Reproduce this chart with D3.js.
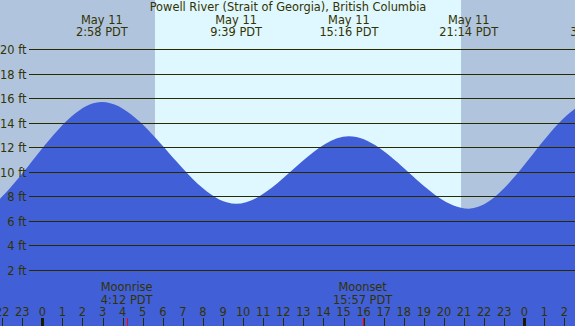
<!DOCTYPE html>
<html>
<head>
<meta charset="utf-8">
<script src="https://cdn.jsdelivr.net/npm/d3@7"></script>
<style>
  html, body { margin: 0; padding: 0; background: #fff; }
  svg { display: block; }
  text { font-family: "DejaVu Sans", sans-serif; fill: #333300; }
</style>
</head>
<body>
<div id="chart"></div>
<script>
// tide extremes, hours from May 11 00:00 PDT
var extremeHours = [-10.1, -3.9, 2.967, 9.65, 15.267, 21.233, 27.58, 34.3];
var extremeFeet  = [12.8, 6.2, 15.7, 7.4, 12.9, 7.0, 15.8, 7.0];
var extremeDates = ["May 10", "May 10", "May 11", "May 11", "May 11", "May 11", "May 12", "May 12"];
var extremeTimes = ["13:54 PDT", "20:06 PDT", "2:58 PDT", "9:39 PDT", "15:16 PDT", "21:14 PDT", "3:35 PDT", "10:18 PDT"];

// daylight (sunrise, sunset) in hours
var sunrise = 5.61;
var sunset = 20.85;

// moon events
var moonNames = ["Moonrise", "Moonset"];
var moonHours = [4.2, 15.95];
var moonTimes = ["4:12 PDT", "15:57 PDT"];

var feetTicks = [2, 4, 6, 8, 10, 12, 14, 16, 18, 20];
var hourTicks = d3.range(-2, 27);

var width = 575, height = 326;

var svg = d3.select("#chart").append("svg")
    .attr("width", width)
    .attr("height", height);

var x = d3.scaleLinear()
    .domain([0, 24])
    .range([42.3, 524.3]);

var y = d3.scaleLinear()
    .domain([0, 20])
    .range([294.5, 49.3]);

// night background
svg.append("rect")
    .attr("x", 0).attr("y", 0)
    .attr("width", width).attr("height", height)
    .attr("fill", "#b0c4de");

// daylight
svg.append("rect")
    .attr("x", x(sunrise))
    .attr("y", 0)
    .attr("width", x(sunset) - x(sunrise))
    .attr("height", height)
    .attr("fill", "#dff7ff");

// tide area
var tideData = extremeHours.map(function(h, i) {
    return {h: h, ft: extremeFeet[i], date: extremeDates[i], time: extremeTimes[i]};
});

var area = d3.area()
    .x(function(d) { return x(d.h); })
    .y0(height)
    .y1(function(d) { return y(d.ft); })
    .curve(d3.curveMonotoneX);

svg.append("path")
    .datum(tideData)
    .attr("d", area)
    .attr("fill", "#415fd7");

// grid lines + labels
var grid = svg.append("g");
grid.selectAll("line").data(feetTicks)
    .enter()
    .append("line")
    .attr("x1", 29)
    .attr("x2", width)
    .attr("y1", function(d) { return Math.round(y(d)) + 0.5; })
    .attr("y2", function(d) { return Math.round(y(d)) + 0.5; })
    .attr("stroke", "#2a2a00")
    .attr("stroke-width", 1);
grid.selectAll("text").data(feetTicks)
    .enter()
    .append("text")
    .attr("x", 26.5)
    .attr("y", function(d) { return Math.round(y(d)) + 4.5; })
    .attr("text-anchor", "end")
    .attr("font-size", "11.4px")
    .text(function(d) { return d + " ft"; });

// title
svg.append("text")
    .attr("x", 288)
    .attr("y", 11)
    .attr("text-anchor", "middle")
    .attr("font-size", "11.4px")
    .text("Powell River (Strait of Georgia), British Columbia");

// high / low labels (only those that reach into the picture)
var shown = tideData.filter(function(d) { return x(d.h) > -30 && x(d.h) < width + 40; });
var tops = svg.append("g");
tops.selectAll("text.date").data(shown)
    .enter()
    .append("text")
    .attr("class", "date")
    .attr("x", function(d) { return x(d.h); })
    .attr("y", 24)
    .attr("text-anchor", "middle")
    .attr("font-size", "11.4px")
    .text(function(d) { return d.date; });
tops.selectAll("text.time").data(shown)
    .enter()
    .append("text")
    .attr("class", "time")
    .attr("x", function(d) { return x(d.h); })
    .attr("y", 36)
    .attr("text-anchor", "middle")
    .attr("font-size", "11.4px")
    .text(function(d) { return d.time; });

// moon labels
var moon = svg.append("g");
moon.selectAll("text.name").data(moonHours)
    .enter()
    .append("text")
    .attr("class", "name")
    .attr("x", function(d) { return x(d); })
    .attr("y", 291)
    .attr("text-anchor", "middle")
    .attr("font-size", "11.4px")
    .text(function(d, i) { return moonNames[i]; });
moon.selectAll("text.time").data(moonHours)
    .enter()
    .append("text")
    .attr("class", "time")
    .attr("x", function(d) { return x(d); })
    .attr("y", 303.5)
    .attr("text-anchor", "middle")
    .attr("font-size", "11.4px")
    .text(function(d, i) { return moonTimes[i]; });

// hour axis
var hours = svg.append("g");
hours.selectAll("text").data(hourTicks)
    .enter()
    .append("text")
    .attr("x", function(d) { return x(d); })
    .attr("y", 316)
    .attr("text-anchor", "middle")
    .attr("font-size", "11.4px")
    .text(function(d) { return (d + 24) % 24; });
hours.selectAll("line").data(hourTicks)
    .enter()
    .append("line")
    .attr("x1", function(d) { return Math.round(x(d)) + 0.5; })
    .attr("x2", function(d) { return Math.round(x(d)) + 0.5; })
    .attr("y1", 318)
    .attr("y2", height)
    .attr("stroke", function(d) { return (d % 24 == 0) ? "#1a1a00" : "#2a2a00"; })
    .attr("stroke-width", function(d) { return (d % 24 == 0) ? 3 : 1; });

// moon ticks
svg.selectAll("line.moon").data(moonHours)
    .enter()
    .append("line")
    .attr("class", "moon")
    .attr("x1", function(d) { return Math.round(x(d)) + 0.5; })
    .attr("x2", function(d) { return Math.round(x(d)) + 0.5; })
    .attr("y1", 318)
    .attr("y2", height)
    .attr("stroke", "red")
    .attr("stroke-width", 1);
</script>
</body>
</html>
